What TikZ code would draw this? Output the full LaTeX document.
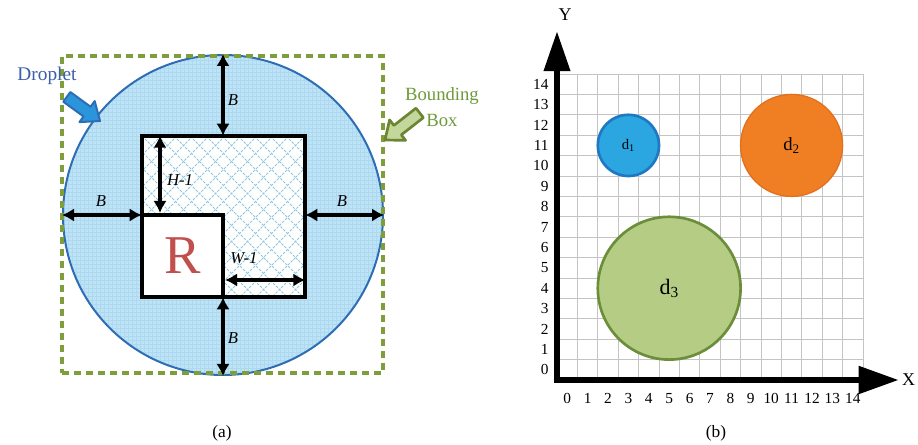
\documentclass[tikz,border=0pt]{standalone}
\usepackage{fontspec}
\setmainfont{Liberation Serif}
\usepackage{xcolor}
\usetikzlibrary{arrows.meta, positioning}

\definecolor{dropfill}{HTML}{BEE3F6}
\definecolor{dropline}{HTML}{2E6DB4}
\definecolor{dropgrid}{HTML}{ACD8F0}
\definecolor{bboxgreen}{HTML}{7E9E3C}
\definecolor{hatchblue}{HTML}{8CC8DC}
\definecolor{rred}{HTML}{C0504D}
\definecolor{labblue}{HTML}{3C5DAA}
\definecolor{labgreen}{HTML}{6E9A3A}
\definecolor{ptrblue}{HTML}{2A95DA}
\definecolor{ptrgreen}{HTML}{C3D69B}
\definecolor{gridgray}{HTML}{C4C4C4}
\definecolor{dA}{HTML}{2BA6E1}
\definecolor{dAline}{HTML}{1F78C4}
\definecolor{dB}{HTML}{F07F24}
\definecolor{dBline}{HTML}{E2701E}
\definecolor{dC}{HTML}{B5CC85}
\definecolor{dCline}{HTML}{6B8E3A}

\begin{document}
\begin{tikzpicture}[x=0.75pt, y=-0.75pt,
    dim/.style={line width=2.8pt, arrows={Latex[length=9pt,width=10pt]-Latex[length=9pt,width=10pt]}},
    wall/.style={line width=3pt},
    lbl/.style={font=\itshape\fontsize{12.5}{14}\selectfont, inner sep=1pt},
    hatch/.style={hatchblue, line width=0.6pt, dash pattern=on 2pt off 1pt},
    tick/.style={font=\fontsize{11.5}{12}\selectfont, inner sep=0pt},
    drop/.style={circle, line width=2pt, inner sep=0pt},
    axis/.style={line width=4.5pt, line join=miter,
                 arrows={Triangle[length=30pt,width=19pt]-Triangle[length=30pt,width=20pt]}}
  ]
  \useasboundingbox (0,0) rectangle (918,445);

  % (a) droplet and its bounding box
  \fill[dropfill] (223,215) circle[radius=160];
  \begin{scope}
    \clip (223,215) circle[radius=159];
    \draw[dropgrid, line width=0.3pt, step=3pt] (60,52) grid (390,380);
  \end{scope}
  \node[drop, draw=dropline, line width=1.5pt, minimum size=240pt] (drop) at (223,215) {};
  \node[draw=bboxgreen, line width=3pt, dash pattern=on 5.5pt off 3.5pt,
        minimum width=240.75pt, minimum height=237.75pt] (bbox) at (222.5,214.5) {};

  % cell region and rectangle R
  \node[fill=white, inner sep=0pt, minimum width=122.25pt, minimum height=120.75pt] (cell) at (223.5,216.5) {};
  \begin{scope}
    \clip (cell.north west) rectangle (cell.south east);
    \foreach \k in {-176,-160,...,176} {
      \draw[hatch] (142+\k,136) -- ++(170,170);
      \draw[hatch] (305-\k,136) -- ++(-170,170);
    }
  \end{scope}
  \draw[wall] (cell.north west) rectangle (cell.south east);
  \node[draw, wall, fill=white, minimum width=60.75pt, minimum height=61.5pt,
        text=rred, font=\fontsize{41}{41}\selectfont, inner sep=0pt] (R) at (182.5,256) {R};

  % distances
  \coordinate (hx) at (160,0);
  \coordinate (wy) at (0,280);
  \draw[dim] (drop.north) -- (drop.north |- cell.north);
  \draw[dim] (drop.south |- cell.south) -- (drop.south);
  \draw[dim] (drop.west) -- (drop.west -| cell.west);
  \draw[dim] (drop.east -| cell.east) -- (drop.east);
  \draw[dim] (hx |- cell.north) -- (hx |- R.north);
  \draw[dim] (R.east |- wy) -- (cell.east |- wy);

  \node[lbl] (btop) at (233,100) {B};
  \node[lbl] (bbot) at (233,338) {B};
  \node[lbl] (bleft) at (101,201) {B};
  \node[lbl] (bright) at (342,201) {B};
  \node[lbl] (hlab) at (180,180) {H-1};
  \node[lbl] (wlab) at (244,258) {W-1};

  % pointers
  \node[text=labblue, font=\fontsize{14.5}{16}\selectfont] (droplab) at (47,76) {Droplet};
  \coordinate (droptip) at (100,121);
  \draw[dropline, fill=ptrblue, line width=1.5pt, line join=round]
    [shift={(droptip)}, rotate=-36]
    (0,0) -- (-16,13) -- (-16,6) -- (-41,6) -- (-41,-6) -- (-16,-6) -- (-16,-13) -- cycle;
  \node[text=labgreen, align=center, font=\fontsize{14}{19}\selectfont] (bboxlab) at (442,107) {Bounding\\Box};
  \coordinate (bboxtip) at (385,140);
  \draw[bboxgreen!85!black, fill=ptrgreen, line width=2pt, line join=round]
    [shift={(bboxtip)}, rotate=218]
    (0,0) -- (-16,13) -- (-16,6) -- (-44,6) -- (-44,-6) -- (-16,-6) -- (-16,-13) -- cycle;

  \node[font=\fontsize{13}{15}\selectfont] (capa) at (222,433) {(a)};
  \node[font=\fontsize{13}{15}\selectfont] (capb) at (716,433) {(b)};

  % (b) droplets on the grid
  \begin{scope}[xshift=417.75pt, yshift=-285pt, x=15.3pt, y=15.3pt]
    \draw[gridgray, line width=0.6pt, step=15.3pt] (0,0) grid (15,15);
    \node[drop, draw=dAline, fill=dA, minimum size=45.9pt,
          font=\fontsize{11}{12}\selectfont] (d1) at (3.5,11.5) {d\textsubscript{1}};
    \node[drop, draw=dBline, fill=dB, line width=1pt, minimum size=76.5pt,
          font=\fontsize{14}{15}\selectfont] (d2) at (11.5,11.5) {d\textsubscript{2}};
    \node[drop, draw=dCline, fill=dC, minimum size=107.1pt,
          font=\fontsize{16.5}{18}\selectfont] (d3) at (5.5,4.5) {d\textsubscript{3}};

    \coordinate (O) at (0,0);
    \coordinate (xend) at (16.75,0);
    \coordinate (yend) at (0,17.1);
    \draw[axis] (yend) -- (O) -- (xend);
    \node[font=\fontsize{13.5}{15}\selectfont, anchor=west, inner sep=0pt] (xlab) at (16.9,0) {X};
    \node[font=\fontsize{13.5}{15}\selectfont] (ylab) at (0.4,17.9) {Y};

    \foreach \i in {0,...,14} {
      \node[tick] (xt\i) at (\i+0.5,-0.9) {\i};
      \node[tick, anchor=east] (yt\i) at (-0.4,\i+0.5) {\i};
    }
  \end{scope}
\end{tikzpicture}
\end{document}
